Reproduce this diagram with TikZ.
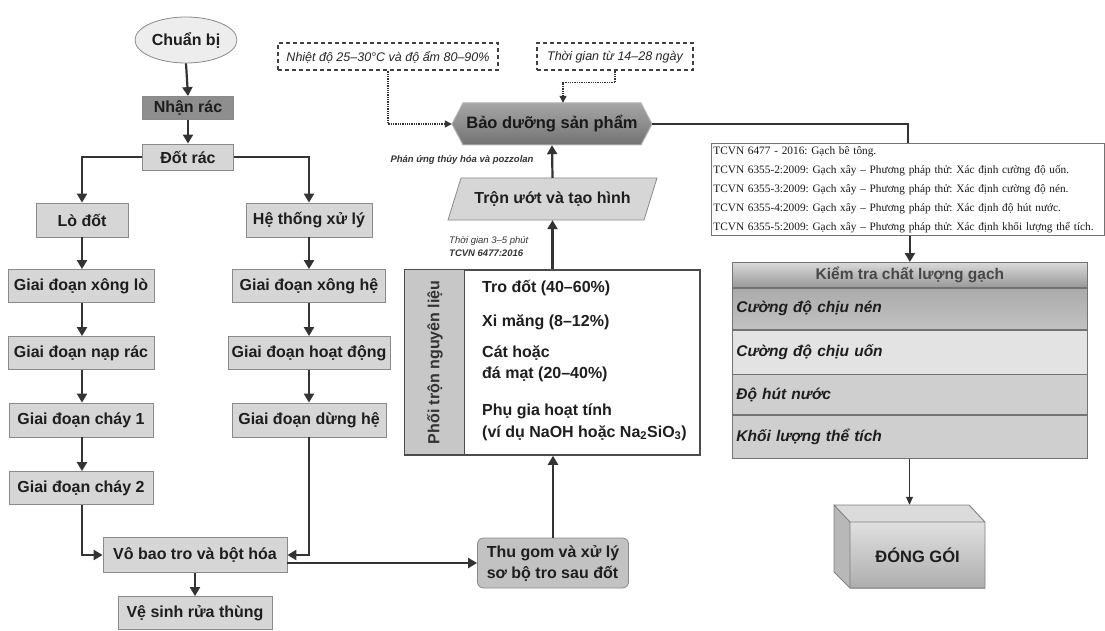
\documentclass[tikz,border=0pt]{standalone}
\usepackage{fontspec}
\setmainfont{Liberation Sans}
\newfontfamily\tnrfont{Liberation Serif}
\usetikzlibrary{arrows.meta,shapes.geometric,calc}
\definecolor{txt}{HTML}{1E1E1E}
\definecolor{boxfill}{HTML}{D6D6D6}
\definecolor{boxline}{HTML}{8A8A8A}
\definecolor{darkfill}{HTML}{8E8E8E}
\definecolor{lne}{HTML}{333333}
\frenchspacing
\begin{document}
\begin{tikzpicture}[x=1pt,y=-1pt,
  every node/.style={inner sep=0pt, text=txt},
  mainfont/.style={font=\fontsize{16}{19}\selectfont\bfseries},
  box/.style={mainfont, draw=boxline, line width=0.8pt, fill=boxfill, align=center},
  arr/.style={draw=lne, line width=2.2pt, -{Triangle[length=9pt,width=10pt]}},
  plainln/.style={draw=lne, line width=2.2pt},
  thinarr/.style={draw=lne, line width=1.1pt, -{Triangle[length=8pt,width=7pt]}},
  dotarr/.style={draw=lne, line width=1.3pt, densely dotted, -{Triangle[length=7pt,width=7pt]}},
  dashbox/.style={draw=black!75, line width=2pt, dash pattern=on 4pt off 3pt, fill=white,
     font=\fontsize{12.5}{15}\selectfont\itshape, text=black!85, minimum height=27},
  item/.style={mainfont, anchor=west, align=left},
  row/.style={draw=black!55, line width=0.8pt, anchor=north west, minimum width=355,
     font=\fontsize{15.5}{18}\selectfont\bfseries\itshape, text width=347, align=left, inner xsep=4pt},
  small/.style={font=\fontsize{9.5}{13}\selectfont\bfseries\itshape, text=black!80}
]
\useasboundingbox (0,0) rectangle (1105,631);

% ---------- left part ----------
\node[box, ellipse, fill=black!7, minimum width=102, minimum height=46] (chuanbi) at (186,40) {Chuẩn bị};
\node[box, fill=darkfill, minimum width=91, minimum height=23] (nhanrac) at (188,108) {Nhận rác};
\node[box, minimum width=91, minimum height=26] (dotrac) at (188,157) {Đốt rác};
\node[box, minimum width=92, minimum height=34] (lodot) at (82,220) {Lò đốt};
\node[box, minimum width=126, minimum height=34] (heth) at (309,220) {Hệ thống xử lý};
\node[box, minimum width=146, minimum height=33] (xonglo) at (81,286) {Giai đoạn xông lò};
\node[box, minimum width=146, minimum height=33] (naprac) at (81,353) {Giai đoạn nạp rác};
\node[box, minimum width=144, minimum height=34] (chay1) at (81,420) {Giai đoạn cháy 1};
\node[box, minimum width=144, minimum height=33] (chay2) at (81,488) {Giai đoạn cháy 2};
\node[box, minimum width=153, minimum height=33] (xongh) at (309,286) {Giai đoạn xông hệ};
\node[box, minimum width=162, minimum height=33] (hoatdong) at (309,353) {Giai đoạn hoạt động};
\node[box, minimum width=154, minimum height=34] (dungh) at (309,420) {Giai đoạn dừng hệ};
\node[box, minimum width=184, minimum height=35] (vobao) at (195,555) {Vô bao tro và bột hóa};
\node[box, minimum width=154, minimum height=33] (vesinh) at (195,613) {Vệ sinh rửa thùng};
\node[box, fill=black!24, rounded corners=6pt, minimum width=151, minimum height=50,
      font=\fontsize{16}{21}\selectfont\bfseries, align=left] (thugom) at (553,563)
      {Thu gom và xử lý\\sơ bộ tro sau đốt};

\draw[arr] (chuanbi.south) -- (nhanrac.north);
\draw[arr] (nhanrac.south) -- (dotrac.north);
\draw[arr] (dotrac.west) -| (lodot.north);
\draw[arr] (dotrac.east) -| (heth.north);
\draw[arr] (lodot.south) -- (lodot.south |- xonglo.north);
\draw[arr] (xonglo.south -| lodot.south) -- (lodot.south |- naprac.north);
\draw[arr] (naprac.south -| lodot.south) -- (lodot.south |- chay1.north);
\draw[arr] (chay1.south -| lodot.south) -- (lodot.south |- chay2.north);
\draw[arr] (chay2.south -| lodot.south) |- (vobao.west);
\draw[arr] (heth.south) -- (xongh.north);
\draw[arr] (xongh.south) -- (hoatdong.north);
\draw[arr] (hoatdong.south) -- (dungh.north);
\draw[arr] (dungh.south) |- (vobao.east);
\draw[arr] (vobao.south) -- (vesinh.north);
\draw[arr] (vobao.east |- thugom.west) -- (thugom.west);

% ---------- mixing table ----------
\node[draw=black!70, line width=1.5pt, fill=white, minimum width=295, minimum height=185] (mix) at (552.5,362.5) {};
\node[draw=black!70, line width=1.2pt, fill=black!22, minimum width=60, minimum height=185,
      anchor=north west] (mixlab) at (mix.north west) {};
\node[rotate=90, font=\fontsize{16}{19}\selectfont\bfseries, text=black!80] at (mixlab.center) {Phối trộn nguyên liệu};
\node[item] (i1) at (482,288) {Tro đốt (40–60\%)};
\node[item] (i2) at (482,322) {Xi măng (8–12\%)};
\node[item, font=\fontsize{16}{21}\selectfont\bfseries] (i3) at (482,364) {Cát hoặc\\đá mạt (20–40\%)};
\node[item, font=\fontsize{16}{22}\selectfont\bfseries] (i4) at (482,422) {Phụ gia hoạt tính\\(ví dụ NaOH hoặc Na\textsubscript{2}SiO\textsubscript{3})};
\draw[arr] (thugom.north) -- (thugom.north |- mix.south);

\node[anchor=west, align=left, font=\fontsize{9.5}{13}\selectfont\itshape, text=black!80] (tg35) at (449,247)
     {Thời gian 3–5 phút\\\textbf{TCVN 6477:2016}};

% ---------- parallelogram ----------
\fill[boxfill] (461,178) -- (657,178) -- (644,220) -- (448,220) -- cycle;
\draw[boxline, line width=0.8pt] (461,178) -- (657,178) -- (644,220) -- (448,220) -- cycle;
\node[mainfont, minimum width=196, minimum height=42] (tron) at (552.5,199) {Trộn ướt và tạo hình};
\draw[arr] (mix.north) -- (tron.south);

% ---------- hexagon ----------
\shade[top color=black!35, bottom color=black!55, draw=black!30, line width=1pt]
  (452,124) -- (463,103) -- (641,103) -- (652,124) -- (641,145) -- (463,145) -- cycle;
\node[font=\fontsize{16.5}{19}\selectfont\bfseries, text=black!90, minimum width=200, minimum height=42] (bao) at (552,124) {Bảo dưỡng sản phẩm};
\draw[arr] (tron.north) -- (bao.south);
\node[small] (pu) at (462,160) {Phản ứng thủy hóa và pozzolan};

% ---------- dashed notes ----------
\node[dashbox, minimum width=220] (nhiet) at (388,57) {Nhiệt độ 25–30°C và độ ẩm 80–90\%};
\node[dashbox, minimum width=156] (tgian) at (615,57) {Thời gian từ 14–28 ngày};
\draw[dotarr] (nhiet.south) |- (bao.west);
\coordinate (baoin) at ($(bao.north)+(11,0)$);
\draw[dotarr] (tgian.south) |- ($(baoin)+(0,-20)$) -- (baoin);

% ---------- standards box ----------
\node[draw=black!55, line width=0.8pt, fill=white, anchor=north west, text width=389, align=left,
      inner xsep=2pt, inner ysep=3pt, font=\tnrfont\fontsize{11.3}{19}\selectfont, text=black!90] (tcvn) at (711,143)
{TCVN 6477 - 2016: Gạch bê tông.\\
TCVN 6355-2:2009: Gạch xây – Phương pháp thử: Xác định cường độ uốn.\\
TCVN 6355-3:2009: Gạch xây – Phương pháp thử: Xác định cường độ nén.\\
TCVN 6355-4:2009: Gạch xây – Phương pháp thử: Xác định độ hút nước.\\
TCVN 6355-5:2009: Gạch xây – Phương pháp thử: Xác định khối lượng thể tích.};
\draw[plainln] (bao.east) -| (tcvn.north);

% ---------- quality table ----------
\node[draw=black!55, line width=0.8pt, anchor=north west, minimum width=355, minimum height=25,
      top color=black!15, bottom color=black!40, font=\fontsize{15.5}{18}\selectfont\bfseries, text=black!72] (kt) at (732,262)
      {Kiểm tra chất lượng gạch};
\node[row, minimum height=41, top color=black!33, bottom color=black!24] (r1) at (kt.south west) {Cường độ chịu nén};
\node[row, minimum height=44, fill=black!11] (r2) at (r1.south west) {Cường độ chịu uốn};
\node[row, minimum height=40, fill=black!19] (r3) at (r2.south west) {Độ hút nước};
\node[row, minimum height=43, fill=black!19] (r4) at (r3.south west) {Khối lượng thể tích};
\draw[arr] (tcvn.south -| kt.north) -- (kt.north);

% ---------- 3D box ----------
\fill[black!28] (850,522) -- (834,505) -- (834,572) -- (850,588) -- cycle;
\fill[black!14] (850,522) -- (834,505) -- (969,505) -- (985,522) -- cycle;
\shade[top color=black!12, bottom color=black!32] (850,522) rectangle (985,588);
\draw[black!50, line width=0.9pt] (850,522) -- (834,505) -- (834,572) -- (850,588)
   (834,505) -- (969,505) -- (985,522) (850,522) rectangle (985,588);
\node[font=\fontsize{16.5}{19}\selectfont\bfseries, minimum width=135, minimum height=66] (dong) at (917.5,555) {ĐÓNG GÓI};
\coordinate (dongtop) at ($(dong.north)+(-8,-17)$);
\draw[thinarr] (r4.south -| dongtop) -- (dongtop);
\end{tikzpicture}
\end{document}
